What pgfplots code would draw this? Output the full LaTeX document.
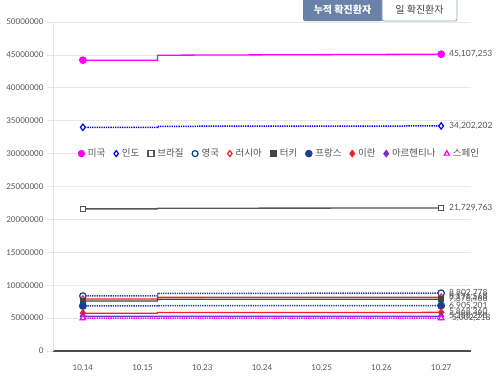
\documentclass[border=0pt]{standalone}
\usepackage{pgfplots}
\pgfplotsset{compat=1.18}
\usepackage{fontspec}
\setmainfont{Lato}
\newfontfamily\kr{Noto Sans CJK KR}
\definecolor{cUS}{HTML}{FF00FF}
\definecolor{cIN}{HTML}{0000FF}
\definecolor{cBR}{HTML}{555555}
\definecolor{cUK}{HTML}{1A3C9C}
\definecolor{cRU}{HTML}{EE2222}
\definecolor{cTR}{HTML}{444444}
\definecolor{cFR}{HTML}{1A3C9C}
\definecolor{cIR}{HTML}{EE2222}
\definecolor{cAR}{HTML}{7A2FD0}
\definecolor{cES}{HTML}{FF00FF}
\definecolor{btn}{HTML}{6B82A8}
\definecolor{btnb}{HTML}{8EA0C0}
\definecolor{lab}{HTML}{555555}
\begin{document}
\begin{tikzpicture}
\path[use as bounding box] (-53pt,-25pt) rectangle (447pt,351pt);
\begin{axis}[
  scale only axis, width=418pt, height=329pt,
  at={(0pt,0pt)}, anchor=south west,
  xmin=-0.5, xmax=6.5, ymin=0, ymax=50000000,
  xtick={0,...,6},
  xticklabels={10.14,10.15,10.23,10.24,10.25,10.26,10.27},
  ytick={0,5000000,...,50000000},
  scaled y ticks=false,
  /pgf/number format/assume math mode=true,
  yticklabel style={/pgf/number format/fixed,/pgf/number format/1000 sep={}, font=\fontsize{8}{9}\selectfont, text=lab},
  xticklabel style={font=\fontsize{8}{9}\selectfont, text=lab, yshift=-4pt},
  ymajorgrids, grid style={draw=black!9, line width=0.8pt},
  axis x line*=bottom, axis y line*=left,
  x axis line style={draw=black!70, line width=1.5pt, -},
  y axis line style={draw=black!10, line width=0.8pt, -},
  major tick length=6pt,
  ytick style={draw=black!10, line width=0.8pt},
  xtick style={draw=none},
  tick align=outside,
  clip=false,
  legend columns=10,
  legend style={at={(0.058,0.6)}, anchor=west, draw=none, fill=white,
    font=\kr\fontsize{9.5}{11}\selectfont, text=lab,
    /tikz/every even column/.append style={column sep=6.5pt},
    /tikz/every odd column/.append style={column sep=1.5pt},
    inner sep=1pt},
  legend image code/.code={\draw[#1, only marks, mark size=3pt] plot coordinates {(0.14cm,0cm)};},
  every axis plot/.append style={line width=1.3pt, mark size=3.2pt},
]
\addplot[cUS, mark=*, mark indices={1,4}] coordinates {(0,44200000) (1.25,44200000) (1.25,44950000) (6,45107253)}
  node[pos=1, anchor=west, xshift=4pt, font=\fontsize{8.5}{9}\selectfont, text=lab] {45,107,253};
\addlegendentry{미국}
\addplot[cIN, densely dotted, line width=1.5pt, mark=diamond*, mark options={solid, fill=white, line width=1.2pt}, mark indices={1,4}] coordinates {(0,34000000) (1.25,34000000) (1.25,34150000) (6,34202202)}
  node[pos=1, anchor=west, xshift=4pt, font=\fontsize{8.5}{9}\selectfont, text=lab] {34,202,202};
\addlegendentry{인도}
\addplot[cBR, mark=square*, mark size=2.6pt, mark options={fill=white, line width=1.2pt}, mark indices={1,4}] coordinates {(0,21600000) (1.25,21600000) (1.25,21700000) (6,21729763)}
  node[pos=1, anchor=west, xshift=4pt, font=\fontsize{8.5}{9}\selectfont, text=lab] {21,729,763};
\addlegendentry{브라질}
\addplot[cUK, densely dotted, line width=1.5pt, mark=*, mark options={solid, fill=white, line width=1.2pt}, mark indices={1,4}] coordinates {(0,8360000) (1.25,8360000) (1.25,8750000) (6,8802778)}
  node[pos=1, anchor=west, xshift=4pt, font=\fontsize{8.5}{9}\selectfont, text=lab] {8,802,778};
\addlegendentry{영국}
\addplot[cRU, mark=diamond*, mark options={fill=white, line width=1.2pt}, mark indices={1,4}] coordinates {(0,7900000) (1.25,7900000) (1.25,8150000) (6,8176568)}
  node[pos=1, anchor=west, xshift=4pt, font=\fontsize{8.5}{9}\selectfont, text=lab] {8,176,568};
\addlegendentry{러시아}
\addplot[cTR, mark=square*, mark size=2.6pt, mark indices={1,4}] coordinates {(0,7600000) (1.25,7600000) (1.25,7850000) (6,7876468)}
  node[pos=1, anchor=west, xshift=4pt, font=\fontsize{8.5}{9}\selectfont, text=lab] {7,876,468};
\addlegendentry{터키}
\addplot[cFR, densely dotted, line width=1.5pt, mark=*, mark options={solid}, mark indices={1,4}] coordinates {(0,6850000) (1.25,6850000) (1.25,6890000) (6,6905201)}
  node[pos=1, anchor=west, xshift=4pt, font=\fontsize{8.5}{9}\selectfont, text=lab] {6,905,201};
\addlegendentry{프랑스}
\addplot[cIR, mark=diamond*, mark indices={1,4}] coordinates {(0,5750000) (1.25,5750000) (1.25,5850000) (6,5868360)}
  node[pos=1, anchor=west, xshift=4pt, font=\fontsize{8.5}{9}\selectfont, text=lab] {5,868,360};
\addlegendentry{이란}
\addplot[cAR, mark=diamond*, mark indices={1,4}] coordinates {(0,5270000) (1.25,5270000) (1.25,5285000) (6,5288258)}
  node[pos=1, anchor=west, xshift=4pt, font=\fontsize{8.5}{9}\selectfont, text=lab] {5,288,258};
\addlegendentry{아르헨티나}
\addplot[cES, densely dotted, line width=1.5pt, mark=triangle*, mark options={solid, fill=white, line width=1.2pt}, mark indices={1,4}] coordinates {(0,4980000) (1.25,4980000) (1.25,4998000) (6,5002218)}
  node[pos=1, anchor=west, xshift=4pt, font=\fontsize{8.5}{9}\selectfont, text=lab] {5,002,218};
\addlegendentry{스페인}
\end{axis}
% toggle buttons
\fill[btn, rounded corners=2pt] (250pt,330pt) rectangle (329pt,354pt);
\fill[btn] (300pt,330pt) rectangle (329pt,354pt);
\node[text=white, font=\kr\bfseries\fontsize{10}{11}\selectfont] at (289.5pt,341pt) {누적 확진환자};
\draw[btnb, line width=0.8pt, rounded corners=2pt] (329pt,330pt) rectangle (404pt,354pt);
\node[text=black!75, font=\kr\fontsize{10}{11}\selectfont] at (366.5pt,341pt) {일 확진환자};
\end{tikzpicture}
\end{document}
